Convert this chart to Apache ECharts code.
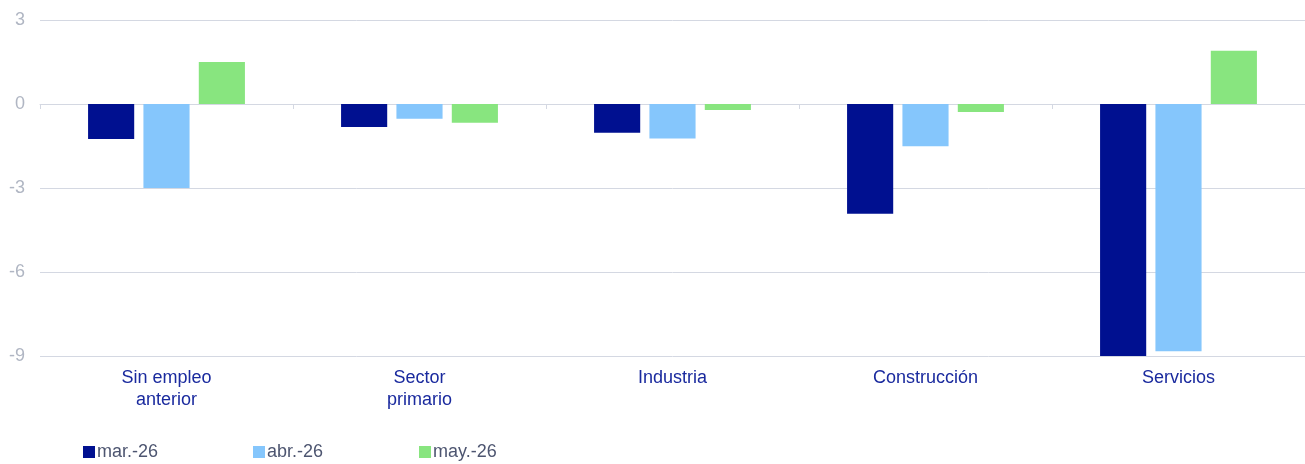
<!DOCTYPE html>
<html>
<head>
<meta charset="utf-8">
<script src="https://cdn.jsdelivr.net/npm/echarts@6/dist/echarts.min.js"></script>
<style>
  html, body { margin: 0; padding: 0; background: #fff; }
  #chart { width: 1305px; height: 464px; }
</style>
</head>
<body>
<div id="chart"></div>
<script>
// categorías (eje x)
const categories = ['Sin empleo\nanterior', 'Sector\nprimario', 'Industria', 'Construcción', 'Servicios']
// series
const marValues = [-1.25, -0.82, -1.03, -3.92, -9.0]
const abrValues = [-3.0, -0.53, -1.23, -1.51, -8.83]
const mayValues = [1.5, -0.67, -0.21, -0.29, 1.9]
const seriesNames = ['mar.-26', 'abr.-26', 'may.-26']
const colors = ['#001090', '#85c6fc', '#88e57f']

const chart = echarts.init(document.getElementById('chart'))

const allData = [marValues, abrValues, mayValues]
const legendLeft = [78, 248, 414]

const option = {
  animation: false,
  grid: { left: 40, right: 0, top: 20, bottom: 108 },
  legend: seriesNames.map((name, i) => ({
    data: [name],
    left: legendLeft[i],
    top: 438,
    itemWidth: 12,
    itemHeight: 12,
    itemGap: 0,
    icon: 'rect',
    textStyle: { color: '#4d5570', fontSize: 18, fontFamily: 'Liberation Sans', padding: [0, 0, 0, -3] },
  })),
  xAxis: [
    {
      type: 'category',
      data: categories,
      position: 'bottom',
      axisLine: { show: false, onZero: false },
      axisTick: { show: false },
      axisLabel: {
        color: '#1a2a9e',
        fontSize: 18,
        fontFamily: 'Liberation Sans',
        lineHeight: 22,
        margin: 11,
      },
    },
    {
      type: 'category',
      data: categories,
      position: 'bottom',
      axisLine: { show: true, onZero: true, lineStyle: { color: '#d4d8e2', width: 1 } },
      axisTick: { show: true, length: 5, lineStyle: { color: '#d4d8e2' } },
      axisLabel: { show: false },
    },
  ],
  yAxis: {
    type: 'value',
    min: -9,
    max: 3,
    interval: 3,
    axisLine: { show: false },
    axisTick: { show: false },
    axisLabel: {
      color: '#b0b6c3',
      fontSize: 18,
      fontFamily: 'Liberation Sans',
      margin: 15,
    },
    splitLine: { lineStyle: { color: '#d4d8e2', width: 1 } },
  },
  series: allData.map((d, i) => ({
    name: seriesNames[i],
    type: 'bar',
    xAxisIndex: 0,
    data: d,
    barGap: '20%',
    barCategoryGap: '38%',
    itemStyle: { color: colors[i] },
  })),
}

chart.setOption(option)
</script>
</body>
</html>
